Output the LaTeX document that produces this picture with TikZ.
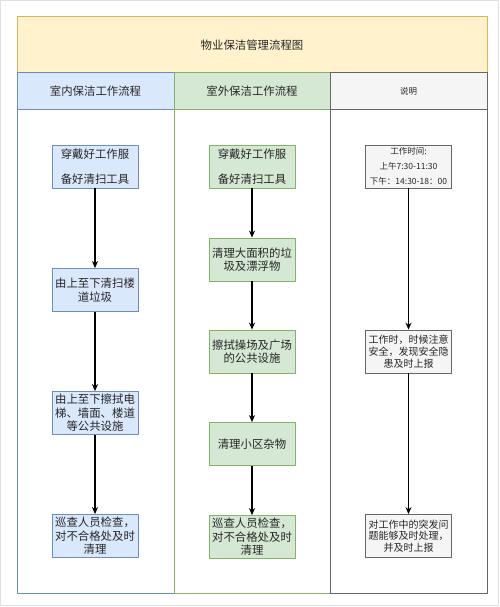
\documentclass[tikz,border=0pt]{standalone}
\usepackage{fontspec}
\setmainfont{Noto Sans CJK SC}
\usetikzlibrary{arrows.meta}
\definecolor{titlefill}{HTML}{FFF2CC}
\definecolor{titleline}{HTML}{D6B656}
\definecolor{infill}{HTML}{DAE8FC}
\definecolor{inline}{HTML}{6C8EBF}
\definecolor{outfill}{HTML}{D5E8D4}
\definecolor{outline}{HTML}{82B366}
\definecolor{notefill}{HTML}{F5F5F5}
\definecolor{noteline}{HTML}{666666}
\begin{document}
\begin{tikzpicture}[x=1pt, y=-1pt, line join=round, >={Stealth[length=7pt,width=6pt]},
	txt/.style={font=\fontsize{11.4}{13.5}\selectfont, text=black!85},
	lanehead/.style={draw, line width=1pt, minimum height=37pt, txt},
	stepbox/.style={draw, line width=0.8pt, minimum width=86pt, minimum height=43pt, inner sep=1pt, align=center, txt},
	inbox/.style={stepbox, draw=inline, fill=infill},
	outbox/.style={stepbox, draw=outline, fill=outfill},
	notebox/.style={stepbox, draw=noteline, fill=notefill, font=\fontsize{10}{11.7}\selectfont}]
	\useasboundingbox (0,0) rectangle (500,607);
	\draw[black!12] (0.5,0.5) rectangle (498,605.5);
	% header
	\node[lanehead, draw=titleline, fill=titlefill, minimum width=470pt, minimum height=56pt] (title) at (252,45) {物业保洁管理流程图};
	\node[lanehead, draw=inline, fill=infill, minimum width=157pt] (inhead) at (95.5,91.5) {室内保洁工作流程};
	\node[lanehead, draw=outline, fill=outfill, minimum width=156pt] (outhead) at (252,91.5) {室外保洁工作流程};
	\node[lanehead, draw=noteline, fill=notefill, minimum width=157pt, font=\fontsize{8.5}{10}\selectfont] (notehead) at (408.5,91.5) {说明};
	% lanes
	\draw[inline, line width=1pt] (17,110) rectangle (174,593);
	\draw[outline, line width=1pt] (174,110) rectangle (330,593);
	\draw[noteline, line width=1pt] (330,110) rectangle (487,593);
	% indoor
	\node[inbox] (in1) at (95,166.5) {穿戴好工作服\\[11.5pt]备好清扫工具};
	\node[inbox] (in2) at (95,290) {由上至下清扫楼\\道垃圾};
	\node[inbox] (in3) at (95,413) {由上至下擦拭电\\梯、墙面、楼道\\等公共设施};
	\node[inbox] (in4) at (95,536) {巡查人员检查，\\对不合格处及时\\清理};
	% outdoor
	\node[outbox] (out1) at (252,166.5) {穿戴好工作服\\[11.5pt]备好清扫工具};
	\node[outbox] (out2) at (252,259.5) {清理大面积的垃\\圾及漂浮物};
	\node[outbox] (out3) at (252,351.5) {擦拭操场及广场\\的公共设施};
	\node[outbox] (out4) at (252,444) {清理小区杂物};
	\node[outbox] (out5) at (252,537) {巡查人员检查，\\对不合格处及时\\清理};
	% notes
	\node[notebox, font=\fontsize{8.5}{15}\selectfont] (note1) at (408.5,166.5) {工作时间:\\上午7:30-11:30\\下午：14:30-18：00};
	\node[notebox] (note2) at (408.5,351.5) {工作时，时候注意\\安全，发现安全隐\\患及时上报};
	\node[notebox] (note3) at (408.5,536) {对工作中的突发问\\题能够及时处理，\\并及时上报};
	\foreach \a/\b in {in1/in2,in2/in3,in3/in4,out1/out2,out2/out3,out3/out4,out4/out5,note1/note2,note2/note3}
		\draw[->, line width=1.2pt] (\a) -- (\b);
\end{tikzpicture}
\end{document}
